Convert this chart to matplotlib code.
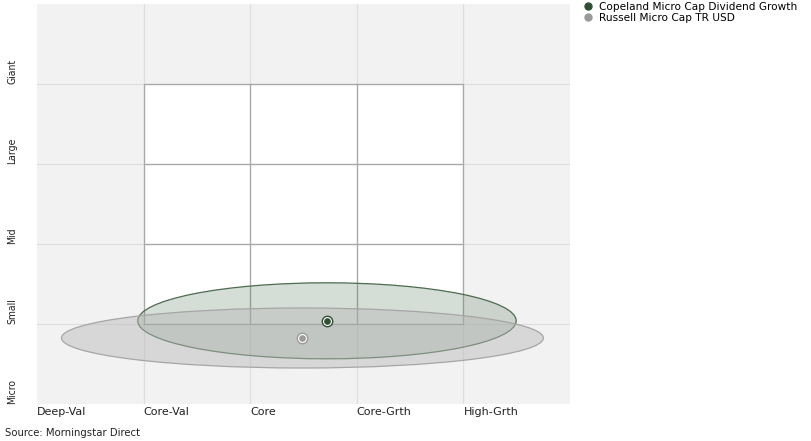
import numpy as np
import matplotlib.pyplot as plt
from matplotlib.patches import Ellipse, Rectangle
from matplotlib.lines import Line2D

styles = ['Deep-Val', 'Core-Val', 'Core', 'Core-Grth', 'High-Grth']
sizes = ['Micro', 'Small', 'Mid', 'Large', 'Giant']

names = ['Copeland Micro Cap Dividend Growth', 'Russell Micro Cap TR USD']
cx = [2.72, 2.49]
cy = [1.04, 0.825]
zone_w = [3.55, 4.52]
zone_h = [0.95, 0.75]

fill_cols = [(0.34, 0.48, 0.36, 0.25), (0.72, 0.72, 0.72, 0.45)]
edge_cols = ['#4d6b50', '#a6a6a6']
dot_cols = ['#2f4f33', '#9a9a9a']

fig = plt.figure(figsize=(8.12, 4.41), dpi=100)
ax = fig.add_axes([37/812, 37/441, 533/812, 400/441])
ax.set_xlim(0, 5)
ax.set_ylim(0, 5)
ax.set_facecolor('#f2f2f2')

# inner 3x3 box
ax.add_patch(Rectangle((1, 1), 3, 3, facecolor='white', edgecolor='none', zorder=0.5))
for v in range(1, 5):
    ax.axvline(v, color='#dedede', lw=0.9, zorder=0.6)
    ax.axhline(v, color='#dedede', lw=0.9, zorder=0.6)
for v in range(1, 5):
    ax.plot([v, v], [1, 4], color='#a8a8a8', lw=0.9, zorder=0.7)
    ax.plot([1, 4], [v, v], color='#a8a8a8', lw=0.9, zorder=0.7)

for i in range(len(names)):
    ax.add_patch(Ellipse((cx[i], cy[i]), zone_w[i], zone_h[i],
                         facecolor=fill_cols[i], edgecolor=edge_cols[i], lw=0.9, zorder=2))
for i in range(len(names)):
    ax.plot(cx[i], cy[i], 'o', ms=7.5, mfc='white', mec=dot_cols[i], mew=1.0, zorder=4)
    ax.plot(cx[i], cy[i], 'o', ms=3.8, mfc=dot_cols[i], mec=dot_cols[i], zorder=5)

ax.set_xticks(range(5))
ax.set_xticklabels(styles, ha='left', fontsize=8, color='#222222')
ax.set_yticks(range(5))
ax.set_yticklabels(sizes, rotation=90, va='bottom', fontsize=7.5, color='#222222',
                   fontstretch='condensed')
ax.tick_params(length=0, pad=2)
ax.tick_params(axis='y', pad=14)
for s in ax.spines.values():
    s.set_visible(False)

handles = [Line2D([], [], marker='o', ls='none', ms=5, color=dot_cols[i]) for i in range(len(names))]
fig.legend(handles, names, loc='upper left', bbox_to_anchor=(584/812, 1 - 2/441),
           frameon=False, fontsize=7.6, handletextpad=0.6, labelspacing=0.1,
           handlelength=0.8, borderaxespad=0, borderpad=0)

fig.text(5/812, 1 - 438/441, 'Source: Morningstar Direct', fontsize=7.3, color='#222222', va='bottom')

plt.savefig('out.png', dpi=100)
